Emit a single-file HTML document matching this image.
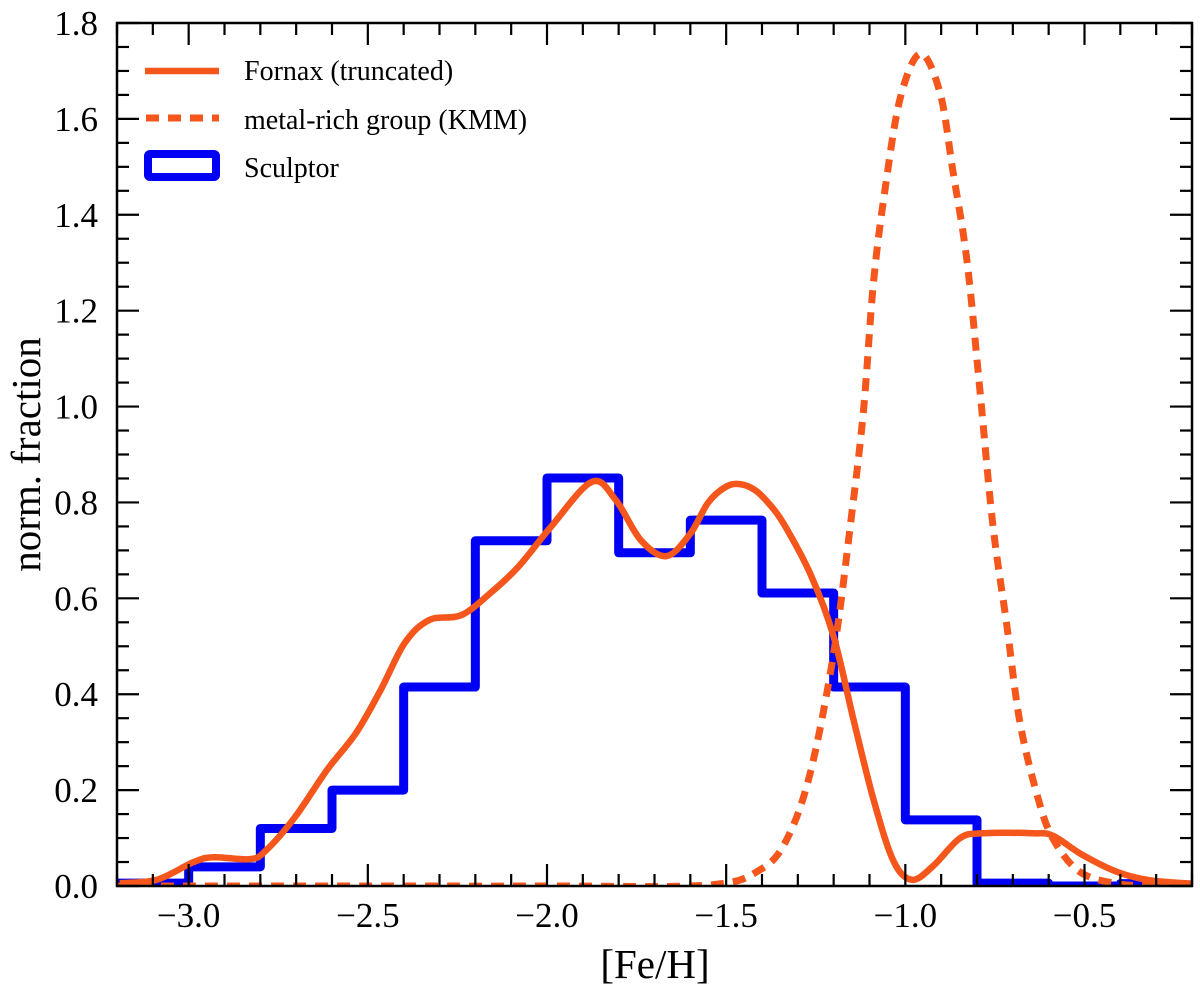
<!DOCTYPE html>
<html><head><meta charset="utf-8"><style>
html,body{margin:0;padding:0;background:#fff;}
svg{display:block;font-family:"Liberation Serif",serif;}
</style></head><body>
<svg id="chart" width="1200" height="990" xmlns="http://www.w3.org/2000/svg">
<g id="plot"></g>
</svg>
<script>
// Data
const histEdges = [-3.2,-3.0,-2.8,-2.6,-2.4,-2.2,-2.0,-1.8,-1.6,-1.4,-1.2,-1.0,-0.8,-0.6,-0.4,-0.3];
const sculptorValues = [0.006,0.04,0.12,0.20,0.415,0.72,0.851,0.695,0.763,0.611,0.415,0.138,0.006,0.0,0.005];
const fornaxX = [-3.192,-3.089,-2.986,-2.93,-2.828,-2.783,-2.703,-2.614,-2.533,-2.464,-2.397,-2.328,-2.239,-2.158,-2.081,-1.989,-1.875,-1.808,-1.739,-1.667,-1.60,-1.55,-1.50,-1.46,-1.42,-1.38,-1.339,-1.264,-1.2,-1.144,-1.089,-1.033,-0.981,-0.922,-0.847,-0.783,-0.644,-0.589,-0.506,-0.411,-0.319,-0.203];
const fornaxY = [0.006,0.013,0.05,0.06,0.056,0.075,0.144,0.242,0.319,0.409,0.507,0.555,0.565,0.611,0.665,0.749,0.843,0.805,0.722,0.688,0.735,0.80,0.833,0.838,0.826,0.797,0.755,0.649,0.52,0.345,0.181,0.052,0.013,0.042,0.1,0.11,0.11,0.105,0.065,0.03,0.012,0.005];
const kmmX = [-3.2,-2.5,-2.0,-1.55,-1.403,-1.329,-1.264,-1.2,-1.153,-1.117,-1.089,-1.056,-1.014,-0.958,-0.903,-0.867,-0.828,-0.792,-0.756,-0.717,-0.681,-0.633,-0.589,-0.514,-0.41,-0.3,-0.2];
const kmmY = [0,0,0,0.002,0.035,0.1,0.24,0.486,0.755,0.99,1.258,1.456,1.644,1.736,1.654,1.49,1.304,1.035,0.755,0.545,0.345,0.192,0.1,0.03,0.005,0,0];
const xTickLabels = ["\u22123.0","\u22122.5","\u22122.0","\u22121.5","\u22121.0","\u22120.5"];
const xTickValues = [-3.0,-2.5,-2.0,-1.5,-1.0,-0.5];
const yTickLabels = ["0.0","0.2","0.4","0.6","0.8","1.0","1.2","1.4","1.6","1.8"];
const yTickValues = [0,0.2,0.4,0.6,0.8,1.0,1.2,1.4,1.6,1.8];

const L=117,R=1192,T=23,B=886;
const xMin=-3.2,xMax=-0.2,yMin=0,yMax=1.8;
const X=v=>L+(v-xMin)/(xMax-xMin)*(R-L);
const Y=v=>B-(v-yMin)/(yMax-yMin)*(B-T);
const NS="http://www.w3.org/2000/svg";
const g=document.getElementById('plot');
function mk(tag,attrs,parent){const e=document.createElementNS(NS,tag);for(const k in attrs)e.setAttribute(k,attrs[k]);(parent||g).appendChild(e);return e;}
const ORANGE="#f4561c", BLUE="#0000f5";

const defs=mk('defs',{});
const cp=mk('clipPath',{id:'clip'},defs);
mk('rect',{x:L,y:T,width:R-L,height:B-T},cp);
const data=mk('g',{'clip-path':'url(#clip)'});

let d=`M${X(histEdges[0])},${Y(0)}`;
for(let i=0;i<sculptorValues.length;i++){
  d+=` L${X(histEdges[i])},${Y(sculptorValues[i])} L${X(histEdges[i+1])},${Y(sculptorValues[i])}`;
}
d+=` L${X(histEdges[histEdges.length-1])},${Y(0)}`;
const hist=mk('path',{d:d,fill:'none',stroke:BLUE,'stroke-width':9,'stroke-linejoin':'round'},data);



function smooth(xs,ys){
  const p=xs.map((x,i)=>[X(x),Y(ys[i])]);
  let s=`M${p[0][0]},${p[0][1]}`;
  for(let i=0;i<p.length-1;i++){
    const p0=p[Math.max(0,i-1)],p1=p[i],p2=p[i+1],p3=p[Math.min(p.length-1,i+2)];
    const c1=[p1[0]+(p2[0]-p0[0])/6,p1[1]+(p2[1]-p0[1])/6];
    const c2=[p2[0]-(p3[0]-p1[0])/6,p2[1]-(p3[1]-p1[1])/6];
    s+=` C${c1[0]},${c1[1]} ${c2[0]},${c2[1]} ${p2[0]},${p2[1]}`;
  }
  return s;
}
const kmm=mk('path',{d:smooth(kmmX,kmmY),fill:'none',stroke:ORANGE,'stroke-width':7,'stroke-dasharray':'13 9'},data);


const fx=mk('path',{d:smooth(fornaxX,fornaxY),fill:'none',stroke:ORANGE,'stroke-width':6.5},data);



const ax=mk('g',{stroke:'#000','stroke-width':2.2});


for(let k=-32;k<=-2;k++){
  const v=k/10, x=X(v), major=(k%5===0);
  const len=major?22:12;
  mk('line',{x1:x,y1:B,x2:x,y2:B-len},ax);
  mk('line',{x1:x,y1:T,x2:x,y2:T+len},ax);
}
for(let k=0;k<=36;k++){
  const v=k*0.05, y=Y(v), major=(k%4===0);
  const len=major?22:12;
  mk('line',{x1:L,y1:y,x2:L+len,y2:y},ax);
  mk('line',{x1:R,y1:y,x2:R-len,y2:y},ax);
}
const frame=mk('rect',{x:L,y:T,width:R-L,height:B-T,fill:'none',stroke:'#000','stroke-width':2.5});



xTickValues.forEach((v,i)=>{
  const t=mk('text',{x:X(v),y:927,'text-anchor':'middle','font-size':35,fill:'#000'});
  t.textContent=xTickLabels[i];
  
  
});
yTickValues.forEach((v,i)=>{
  const t=mk('text',{x:98,y:Y(v)+12,'text-anchor':'end','font-size':35,fill:'#000'});
  t.textContent=yTickLabels[i];
  
  
});
const xt=mk('text',{x:655,y:978,'text-anchor':'middle','font-size':41,fill:'#000'});
xt.textContent='[Fe/H]';


const yt=mk('text',{x:0,y:0,'text-anchor':'middle','font-size':41,fill:'#000',transform:`translate(40,${(T+B)/2}) rotate(-90)`});
yt.textContent='norm. fraction';



const lg=mk('g',{});


const e1=mk('line',{x1:145,y1:71,x2:219,y2:71,stroke:ORANGE,'stroke-width':6.5},lg);


const e2=mk('line',{x1:146,y1:118,x2:219,y2:118,stroke:ORANGE,'stroke-width':7,'stroke-dasharray':'13 9'},lg);


const e3=mk('rect',{x:148,y:154,width:68,height:23,fill:'none',stroke:BLUE,'stroke-width':8,rx:2},lg);


[["Fornax (truncated)",80],["metal-rich group (KMM)",129],["Sculptor",177]].forEach(([s,y])=>{
  const t=mk('text',{x:244,y:y,'font-size':28,fill:'#000'},lg);
  t.textContent=s;
  
  
});
</script>
</body></html>
